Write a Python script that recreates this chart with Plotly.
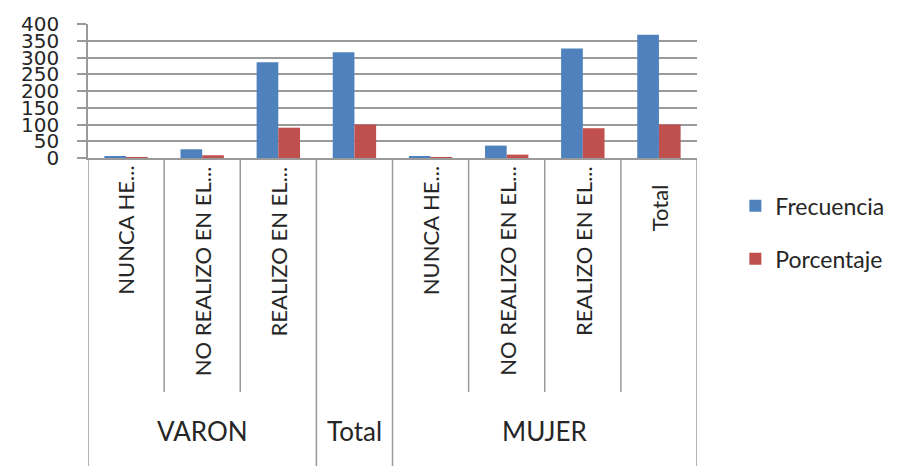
import plotly.graph_objects as go

# ---- data ----
categories = ["NUNCA HE...", "NO REALIZO EN EL...", "REALIZO EN EL...", "",
              "NUNCA HE...", "NO REALIZO EN EL...", "REALIZO EN EL...", "Total"]
groups = ["VARON", "VARON", "VARON", "Total",
          "MUJER", "MUJER", "MUJER", "MUJER"]
frecuencia = [4, 26, 286, 316, 4, 37, 327, 368]
porcentaje = [1.3, 8.2, 90.5, 100, 1.1, 10.1, 88.9, 100]
y_ticks = [0, 50, 100, 150, 200, 250, 300, 350, 400]

BLUE = "#4F81BD"
RED = "#C0504D"
GRID = "#9a9a9a"
TXT = "#262626"
FONT = "Lato"

xpos = list(range(len(categories)))

fig = go.Figure()
fig.add_trace(go.Bar(x=xpos, y=frecuencia, name="Frecuencia",
                     marker=dict(color=BLUE, line=dict(width=0)),
                     legendgroup="f"))
fig.add_trace(go.Bar(x=xpos, y=porcentaje, name="Porcentaje",
                     marker=dict(color=RED, line=dict(width=0)),
                     legendgroup="p"))

# ---- hierarchical category axis drawn below the plot ----
PH = 137.0  # plot height in px (for paper conversions)
inner_bottom = -(397 - 157.7) / PH
outer_bottom = -(480 - 157.7) / PH
label_top = -(164 - 157.7) / PH
total_top = -(182 - 157.7) / PH
group_y = -(437 - 157.7) / PH

shapes = []
annotations = []
n = len(categories)
# boundaries
for b in range(n + 1):
    left = groups[b - 1] if b > 0 else None
    right = groups[b] if b < n else None
    y1 = inner_bottom if left == right else outer_bottom
    shapes.append(dict(type="line", xref="x", yref="paper",
                       x0=b - 0.5, x1=b - 0.5, y0=0, y1=y1,
                       line=dict(color=GRID, width=1.5)))

# category labels (rotated)
for i, c in enumerate(categories):
    if not c:
        continue
    annotations.append(dict(x=i, y=total_top if c == "Total" else label_top,
                            xref="x", yref="paper", text=c, textangle=-90,
                            showarrow=False, xanchor="center", yanchor="top",
                            font=dict(family=FONT, size=22, color=TXT)))

# group labels
start = 0
for i in range(1, n + 1):
    if i == n or groups[i] != groups[start]:
        annotations.append(dict(x=(start + i - 1) / 2, y=group_y,
                                xref="x", yref="paper", text=groups[start],
                                showarrow=False, xanchor="center", yanchor="middle",
                                font=dict(family=FONT, size=26, color=TXT)))
        start = i

fig.update_layout(
    width=911, height=466,
    margin=dict(l=88, r=214, t=21, b=308),
    paper_bgcolor="white", plot_bgcolor="white",
    barmode="group", bargap=0.43, bargroupgap=0,
    showlegend=True,
    legend=dict(x=1.063, xanchor="left", y=-0.555, yanchor="middle",
                font=dict(family=FONT, size=23, color=TXT),
                tracegroupgap=20, traceorder="grouped",
                itemwidth=30, bgcolor="rgba(0,0,0,0)"),
    shapes=shapes, annotations=annotations,
    font=dict(family=FONT, color=TXT),
)
fig.update_xaxes(range=[-0.5, n - 0.5], showticklabels=False, ticks="",
                 showgrid=False, zeroline=False, showline=True,
                 linecolor=GRID, linewidth=1.5)
fig.update_yaxes(range=[0, 400], tickvals=y_ticks, showgrid=True,
                 gridcolor=GRID, gridwidth=1.5, zeroline=False,
                 showline=True, linecolor=GRID, linewidth=1.5,
                 ticks="outside", ticklen=9, tickcolor=GRID, tickwidth=1.5,
                 ticklabelstandoff=14,
                 tickfont=dict(family="DejaVu Sans", size=20, color=TXT))

fig.write_html("out.html")
